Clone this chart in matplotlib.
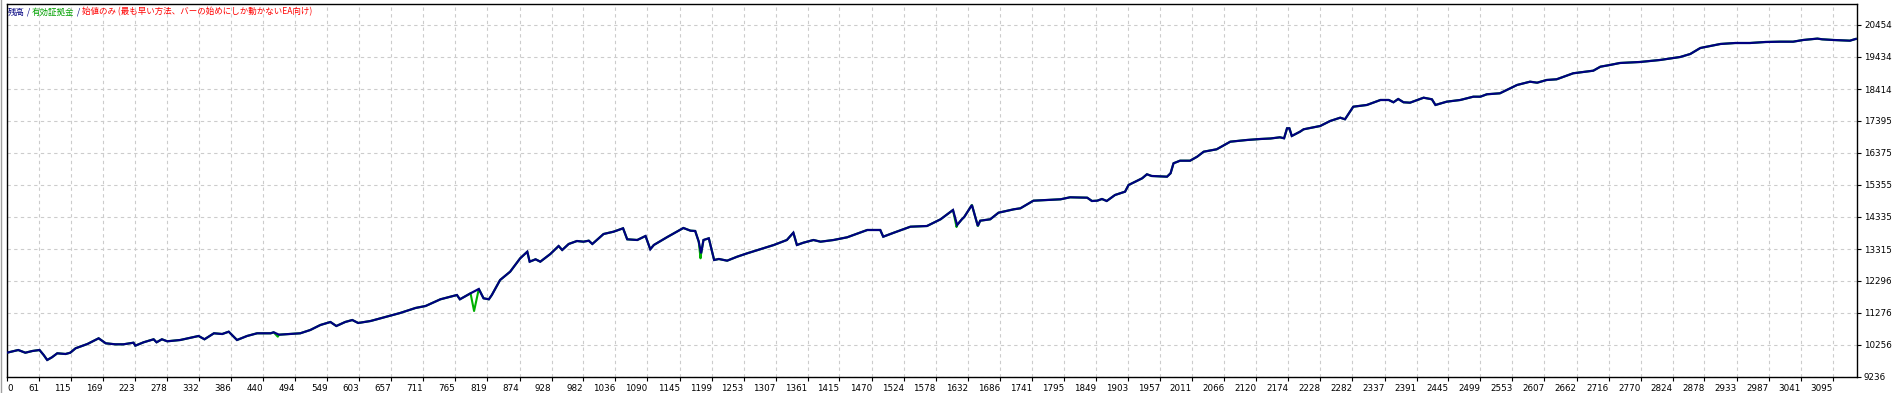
import numpy as np
import matplotlib.pyplot as plt

# balance curve (trade number, balance)
trades = [7, 26, 38, 50, 62, 69, 75, 83, 92, 106, 114, 123, 143, 162, 174, 190, 204, 221, 224, 238,
          255, 260, 269, 278, 300, 331, 341, 357, 371, 382, 396, 413, 430, 453, 458, 467, 486, 503, 520, 537,
          554, 564, 579, 591, 601, 622, 647, 672, 698, 715, 740, 768, 773, 791, 805, 813, 822, 827, 841, 858,
          875, 887, 891, 901, 909, 926, 940, 946, 957, 971, 982, 991, 997, 1016, 1033, 1049, 1056, 1073, 1087, 1095,
          1101, 1123, 1151, 1163, 1171, 1177, 1181, 1185, 1194, 1203, 1211, 1225, 1242, 1259, 1281, 1304, 1326, 1337, 1343, 1354,
          1371, 1383, 1405, 1428, 1462, 1484, 1489, 1507, 1535, 1563, 1586, 1607, 1614, 1622, 1626, 1639, 1649, 1653, 1670, 1684,
          1710, 1721, 1743, 1766, 1789, 1805, 1834, 1842, 1851, 1859, 1867, 1881, 1898, 1904, 1927, 1935, 1943, 1969, 1975, 1980,
          1991, 2008, 2020, 2031, 2053, 2076, 2104, 2127, 2144, 2160, 2167, 2172, 2176, 2180, 2194, 2200, 2228, 2245, 2262, 2270,
          2284, 2307, 2330, 2344, 2352, 2360, 2369, 2380, 2403, 2417, 2423, 2442, 2465, 2487, 2499, 2510, 2532, 2561, 2583, 2595,
          2611, 2628, 2656, 2690, 2702, 2718, 2735, 2769, 2803, 2837, 2854, 2871, 2888, 2905, 2930, 2955, 2981, 3006, 3028, 3045,
          3069, 3077, 3096, 3124, 3134]
balance = [10010, 10096, 10010, 10065, 10096, 9937, 9778, 9864, 9991, 9969, 10010, 10151, 10288, 10469, 10310, 10278, 10278, 10329, 10234, 10342,
           10438, 10342, 10438, 10374, 10415, 10543, 10438, 10629, 10606, 10680, 10415, 10543, 10629, 10629, 10661, 10584, 10606, 10629, 10734, 10893,
           10989, 10861, 10989, 11052, 10957, 11021, 11148, 11276, 11436, 11499, 11712, 11849, 11712, 11903, 12041, 11744, 11712, 11849, 12327, 12592,
           13019, 13229, 12911, 12987, 12911, 13156, 13411, 13283, 13475, 13570, 13548, 13580, 13475, 13793, 13867, 13975, 13624, 13602, 13730, 13306,
           13443, 13688, 13985, 13899, 13889, 13548, 13178, 13602, 13656, 12965, 12997, 12943, 13070, 13178, 13306, 13443, 13602, 13835, 13443, 13516,
           13602, 13548, 13602, 13688, 13921, 13921, 13707, 13835, 14026, 14048, 14262, 14558, 14080, 14262, 14335, 14718, 14048, 14217, 14262, 14472,
           14581, 14612, 14855, 14877, 14899, 14963, 14950, 14845, 14855, 14909, 14845, 15036, 15142, 15355, 15569, 15696, 15642, 15620, 15728, 16047,
           16129, 16129, 16257, 16416, 16493, 16735, 16789, 16821, 16837, 16875, 16843, 17162, 17162, 16917, 17054, 17130, 17235, 17395, 17500, 17449,
           17850, 17905, 18064, 18064, 17991, 18096, 17991, 17978, 18137, 18086, 17905, 18010, 18064, 18169, 18169, 18246, 18277, 18542, 18647, 18615,
           18701, 18724, 18915, 18998, 19125, 19179, 19243, 19275, 19339, 19434, 19530, 19721, 19785, 19849, 19880, 19880, 19912, 19922, 19922, 19976,
           20020, 19998, 19976, 19954, 20010]

# equity drops below balance (green spikes)
dip_trades = [465, 797, 1180, 1613]
dip_equity = [10520, 11339, 13019, 14016]

xtick_labels = ["0", "61", "115", "169", "223", "278", "332", "386", "440", "494", "549", "603", "657", "711",
                "765", "819", "874", "928", "982", "1036", "1090", "1145", "1199", "1253", "1307", "1361", "1415",
                "1470", "1524", "1578", "1632", "1686", "1741", "1795", "1849", "1903", "1957", "2011", "2066",
                "2120", "2174", "2228", "2282", "2337", "2391", "2445", "2499", "2553", "2607", "2662", "2716",
                "2770", "2824", "2878", "2933", "2987", "3041", "3095"]
ytick_values = [9236, 10256, 11276, 12296, 13315, 14335, 15355, 16375, 17395, 18414, 19434, 20454]

x_min, x_max = 7, 3136
y_min, y_max = 9236, 21123

fig = plt.figure(figsize=(18.93, 3.93), dpi=100)
ax = fig.add_axes([7 / 1893, 1 - 377 / 393, 1850 / 1893, 373 / 393])

eq_t = np.array(trades + dip_trades)
eq_v = np.array(balance + dip_equity)
order = np.argsort(eq_t, kind='stable')
ax.plot(eq_t[order], eq_v[order], color='#00b000', lw=1.5, zorder=2)
ax.plot(trades, balance, color='#000080', lw=1.6, zorder=3, solid_joinstyle='miter')

ax.set_xlim(x_min, x_max)
ax.set_ylim(y_min, y_max)

xpos = [x_min] + [int(s) for s in xtick_labels[1:]]
ax.set_xticks(xpos)
ax.set_xticklabels(xtick_labels, fontsize=6.3, family='DejaVu Sans')
for i, lab in enumerate(ax.get_xticklabels()):
    lab.set_ha('left' if i == 0 else 'right')

ax.set_yticks(ytick_values)
ax.set_yticklabels([str(v) for v in ytick_values], fontsize=6.3, family='DejaVu Sans')
ax.yaxis.tick_right()
ax.tick_params(axis='y', direction='out', length=3, width=0.8, pad=2, colors='black')
ax.tick_params(axis='x', direction='out', length=3, width=0.8, pad=2, colors='black')

ax.grid(True, color='#cccccc', linestyle=(0, (3, 3)), lw=0.8, zorder=0)
ax.set_axisbelow(True)
for sp in ax.spines.values():
    sp.set_color('black')
    sp.set_linewidth(1.0)

# legend-like title in three colours
parts = [("残高", '#000080'), (" / ", '#000080'), ("有効証拠金", '#00a000'), (" / ", '#000080'),
         ("始値のみ (最も早い方法、バーの始めにしか動かないEA向け)", '#ff0000')]
fig.canvas.draw()
renderer = fig.canvas.get_renderer()
x_px = 8
for txt, col in parts:
    t = fig.text(x_px / 1893, 1 - 12 / 393, txt, color=col, fontsize=6.1, va='center', ha='left',
                 family=['Noto Sans CJK JP', 'DejaVu Sans'])
    bb = t.get_window_extent(renderer=renderer)
    x_px = bb.x1

# outer window border
fig.add_artist(plt.Line2D([0.5 / 1893, 0.5 / 1893], [0, 1], color='#a0a0a0', lw=1))

plt.savefig('out.png', dpi=100)
